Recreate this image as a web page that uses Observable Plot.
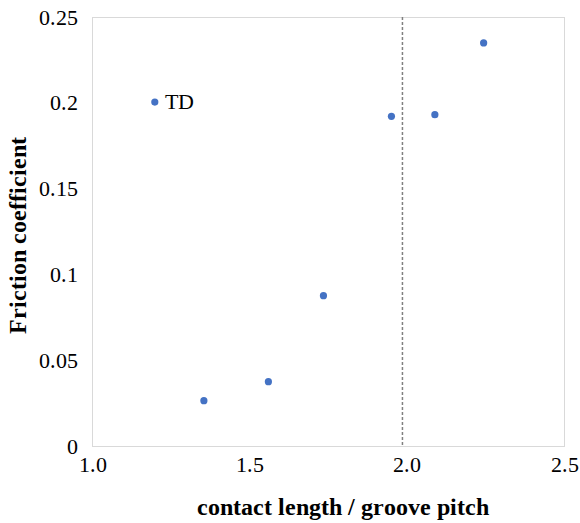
<!DOCTYPE html>
<html>
<head>
<meta charset="utf-8">
<script src="https://cdn.jsdelivr.net/npm/d3@7"></script>
<script src="https://cdn.jsdelivr.net/npm/@observablehq/plot@0.6"></script>
<style>
  @font-face { font-family: "ChartSerif"; src: local("Liberation Serif"), local("LiberationSerif"), local("Liberation Serif Regular"); font-weight: 400; font-style: normal; }
  @font-face { font-family: "ChartSerif"; src: local("Liberation Serif Bold"), local("LiberationSerif-Bold"); font-weight: 700; font-style: normal; }
  html, body { margin: 0; padding: 0; background: #fff; font-family: "ChartSerif", "Liberation Serif", serif; }
  #chart svg { display: block; }
</style>
</head>
<body>
<div id="chart"></div>
<script>
const xValues = [1.198, 1.354, 1.559, 1.734, 1.950, 2.088, 2.243];
const yValues = [0.2007, 0.0267, 0.0378, 0.0879, 0.1924, 0.1934, 0.2352];
const pointLabels = ["TD", "", "", "", "", "", ""];
const xTicks = [1.0, 1.5, 2.0, 2.5];
const yTicks = [0, 0.05, 0.1, 0.15, 0.2, 0.25];
const refLineX = [1.985];
const xTitle = "contact length / groove pitch";
const yTitle = "Friction coefficient";

const data = xValues.map((x, i) => ({x, y: yValues[i], label: pointLabels[i]}));

const font = "ChartSerif, 'Liberation Serif', 'Times New Roman', serif";

const chart = Plot.plot({
  width: 580,
  height: 523,
  marginLeft: 92,
  marginRight: 16,
  marginTop: 17,
  marginBottom: 77,
  style: {fontFamily: font, fontSize: "22px", color: "#000", background: "#fff"},
  x: {domain: [1.0, 2.5]},
  y: {domain: [0, 0.25]},
  marks: [
    Plot.frame({stroke: "#d9d9d9", strokeWidth: 1}),
    Plot.axisX({ticks: xTicks, tickFormat: d3.format(".1f"), tickSize: 0, tickPadding: 10, label: null, fontSize: 22, fontWeight: 400, fill: "#000"}),
    Plot.axisY({ticks: yTicks, tickFormat: d => String(d), tickSize: 0, tickPadding: 15, label: null, fontSize: 22, fontWeight: 400, fill: "#000"}),
    Plot.ruleX(refLineX, {stroke: "#808080", strokeWidth: 1.5, strokeDasharray: "3,2"}),
    Plot.dot(data, {x: "x", y: "y", r: 3.6, fill: "#4472C4", stroke: "none"}),
    Plot.text(data.filter(d => d.label), {x: "x", y: "y", text: "label", textAnchor: "start", dx: 10, fontSize: 22, fontWeight: 400, fill: "#000"}),
    Plot.text([xTitle], {frameAnchor: "bottom", textAnchor: "middle", dx: 14, dy: 68, fontSize: 24, fontWeight: 700, fill: "#000"}),
    Plot.text([yTitle], {frameAnchor: "left", textAnchor: "middle", dx: -74, dy: 3, rotate: -90, fontSize: 24, fontWeight: 700, fill: "#000"})
  ]
});
document.getElementById("chart").appendChild(chart);
d3.select(chart).selectAll("g").each(function() {
  if (this.hasAttribute("font-variant")) this.removeAttribute("font-variant");
});
d3.select(chart).selectAll("text").each(function() {
  const w = getComputedStyle(this).fontWeight;
  this.style.setProperty("font-family", font, "important");
  this.style.setProperty("font-weight", (+w >= 600 || w === "bold") ? "700" : "400", "important");
  this.style.setProperty("font-variant", "normal", "important");
});
</script>
</body>
</html>
